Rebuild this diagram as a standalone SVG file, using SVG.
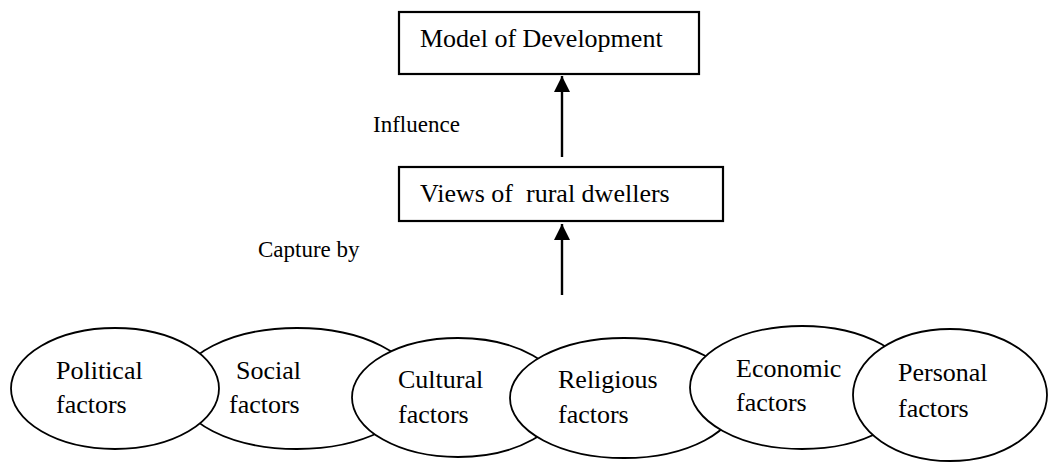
<svg xmlns="http://www.w3.org/2000/svg" width="1052" height="462" viewBox="0 0 1052 462">
  <style>
    text { font-family: "Liberation Serif", "Times New Roman", serif; fill: #000; }
    .node-text { font-size: 26px; }
    .label { font-size: 23px; }
    .box { fill: #fff; stroke: #000; stroke-width: 2.2; }
    .oval { fill: #fff; stroke: #000; stroke-width: 1.8; }
    .link { stroke: #000; stroke-width: 2.4; fill: none; }
  </style>
  <defs>
    <marker id="arrowhead" markerUnits="userSpaceOnUse" markerWidth="16" markerHeight="16" viewBox="0 0 16 16" refX="16" refY="8" orient="auto">
      <path d="M0,0 L16,8 L0,16 Z" fill="#000"/>
    </marker>
  </defs>

  <rect width="1052" height="462" fill="#fff"/>

  <!-- Boxes -->
  <g id="model-of-development">
    <rect class="box" x="399" y="12" width="300" height="62"/>
    <text class="node-text" x="420" y="47">Model of Development</text>
  </g>
  <g id="views-of-rural-dwellers">
    <rect class="box" x="399" y="167" width="324" height="54"/>
    <text class="node-text" x="420" y="202" style="white-space:pre">Views of  rural dwellers</text>
  </g>

  <!-- Connectors -->
  <g id="connectors">
    <line class="link" x1="562" y1="157" x2="562" y2="76" marker-end="url(#arrowhead)"/>
    <line class="link" x1="562" y1="295" x2="562" y2="224" marker-end="url(#arrowhead)"/>
    <text class="label" x="373" y="132">Influence</text>
    <text class="label" x="258" y="257">Capture by</text>
  </g>

  <!-- Factor ovals, stacked left to right -->
  <g id="social-factors">
    <ellipse class="oval" cx="297" cy="388.5" rx="119" ry="60.5"/>
  </g>
  <g id="political-factors">
    <ellipse class="oval" cx="115" cy="388.5" rx="104" ry="60.5"/>
    <text class="node-text" x="56" y="379">Political</text>
    <text class="node-text" x="56" y="413">factors</text>
  </g>
  <g id="social-factors-text">
    <text class="node-text" x="236" y="379">Social</text>
    <text class="node-text" x="229" y="413">factors</text>
  </g>
  <g id="cultural-factors">
    <ellipse class="oval" cx="458" cy="397.5" rx="106" ry="59.5"/>
    <text class="node-text" x="398" y="388">Cultural</text>
    <text class="node-text" x="398" y="423">factors</text>
  </g>
  <g id="religious-factors">
    <ellipse class="oval" cx="624" cy="398" rx="114" ry="60"/>
    <text class="node-text" x="558" y="388">Religious</text>
    <text class="node-text" x="558" y="423">factors</text>
  </g>
  <g id="economic-factors">
    <ellipse class="oval" cx="802" cy="387.5" rx="112" ry="61.5"/>
    <text class="node-text" x="736" y="377">Economic</text>
    <text class="node-text" x="736" y="411">factors</text>
  </g>
  <g id="personal-factors">
    <ellipse class="oval" cx="950" cy="395" rx="97" ry="66"/>
    <text class="node-text" x="898" y="381">Personal</text>
    <text class="node-text" x="898" y="417">factors</text>
  </g>
</svg>
